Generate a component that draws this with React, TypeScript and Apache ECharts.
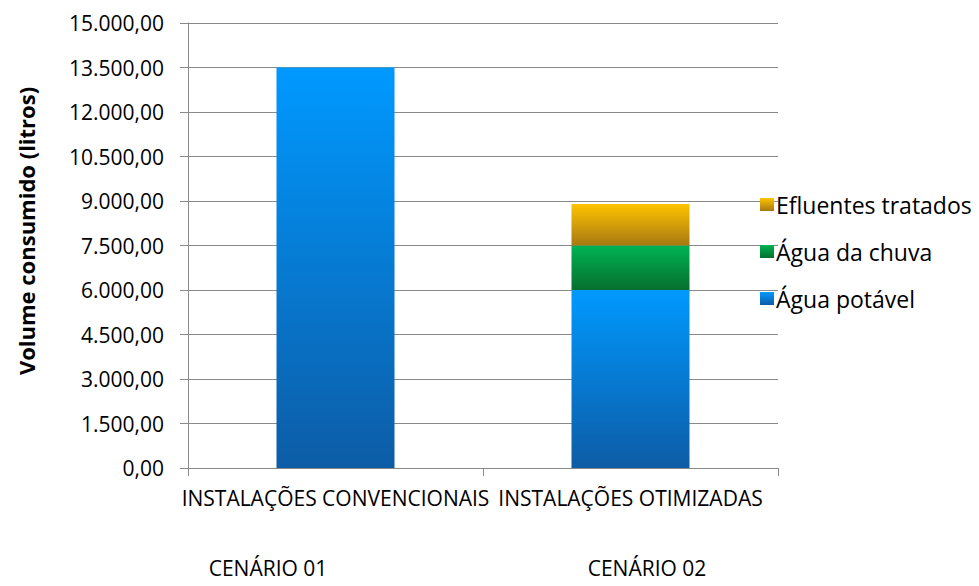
import React, { useEffect, useRef } from "react";
import * as echarts from "echarts";

// Categories, scenario captions and consumption per water source (litres)
const categories = ["INSTALAÇÕES CONVENCIONAIS", "INSTALAÇÕES OTIMIZADAS"];
const scenarios = ["CENÁRIO 01", "CENÁRIO 02"];
const aguaPotavel = [13500, 6000];
const aguaChuva = [0, 1500];
const efluentesTratados = [0, 1400];
const legendOrder = ["Efluentes tratados", "Água da chuva", "Água potável"];

const FONT = "'Open Sans', sans-serif";
const GRID_COLOR = "#898989";

// Brazilian number format: 15.000,00
function formatBR(v: number): string {
  const fixed = v.toFixed(2);
  const [intPart, dec] = fixed.split(".");
  const withDots = intPart.replace(/\B(?=(\d{3})+(?!\d))/g, ".");
  return `${withDots},${dec}`;
}

function vGradient(top: string, bottom: string) {
  return new echarts.graphic.LinearGradient(0, 0, 0, 1, [
    { offset: 0, color: top },
    { offset: 1, color: bottom },
  ]);
}

export default function App() {
  const ref = useRef<HTMLDivElement>(null);

  useEffect(() => {
    if (!ref.current) return;
    const chart = echarts.init(ref.current, undefined, { renderer: "svg" });

    const zeroToNull = (arr: number[]) => arr.map((v) => (v === 0 ? null : v));

    chart.setOption({
      animation: false,
      backgroundColor: "#ffffff",
      grid: { left: 188, right: 201, top: 23, bottom: 118, containLabel: false },
      xAxis: {
        type: "category",
        data: categories,
        boundaryGap: true,
        axisLine: { lineStyle: { color: GRID_COLOR, width: 1 } },
        axisTick: { show: true, length: 8, inside: false, lineStyle: { color: GRID_COLOR } },
        axisLabel: {
          color: "#000",
          fontFamily: FONT,
          fontSize: 21,
          margin: 19,
          interval: 0,
        },
      },
      yAxis: {
        type: "value",
        min: 0,
        max: 15000,
        interval: 1500,
        axisLine: { show: true, lineStyle: { color: GRID_COLOR, width: 1 } },
        axisTick: { show: true, length: 8, lineStyle: { color: GRID_COLOR } },
        splitLine: { show: true, lineStyle: { color: GRID_COLOR, width: 1 } },
        axisLabel: {
          color: "#000",
          fontFamily: FONT,
          fontSize: 21,
          margin: 24,
          formatter: (v: number) => formatBR(v),
        },
      },
      legend: {
        orient: "vertical",
        left: 760,
        top: 192,
        padding: 0,
        itemWidth: 14,
        itemHeight: 13,
        itemGap: 22,
        icon: "rect",
        data: legendOrder,
        textStyle: {
          color: "#000",
          fontFamily: FONT,
          fontSize: 23,
          lineHeight: 25,
          padding: [0, 0, 0, -3],
        },
      },
      series: [
        {
          name: "Água potável",
          type: "bar",
          stack: "total",
          barWidth: "40%",
          data: aguaPotavel,
          itemStyle: { color: vGradient("#0099FF", "#0D5CA6") },
        },
        {
          name: "Água da chuva",
          type: "bar",
          stack: "total",
          barWidth: "40%",
          data: zeroToNull(aguaChuva),
          itemStyle: { color: vGradient("#00B353", "#066F2E") },
        },
        {
          name: "Efluentes tratados",
          type: "bar",
          stack: "total",
          barWidth: "40%",
          data: zeroToNull(efluentesTratados),
          itemStyle: { color: vGradient("#FFC400", "#A77912") },
        },
      ],
      graphic: [
        {
          type: "text",
          x: 26,
          y: 231,
          rotation: Math.PI / 2,
          style: {
            text: "Volume consumido (litros)",
            fontFamily: FONT,
            fontSize: 22,
            fontWeight: "bold",
            fill: "#000",
            align: "center",
            verticalAlign: "middle",
          },
        },
        {
          type: "text",
          x: 268,
          y: 568,
          style: {
            text: scenarios[0],
            fontFamily: FONT,
            fontSize: 21,
            fill: "#000",
            align: "center",
            verticalAlign: "middle",
          },
        },
        {
          type: "text",
          x: 647,
          y: 568,
          style: {
            text: scenarios[1],
            fontFamily: FONT,
            fontSize: 21,
            fill: "#000",
            align: "center",
            verticalAlign: "middle",
          },
        },
      ],
    });

    return () => chart.dispose();
  }, []);

  return <div ref={ref} style={{ width: 979, height: 586, position: "absolute", left: 0, top: 0 }} />;
}
